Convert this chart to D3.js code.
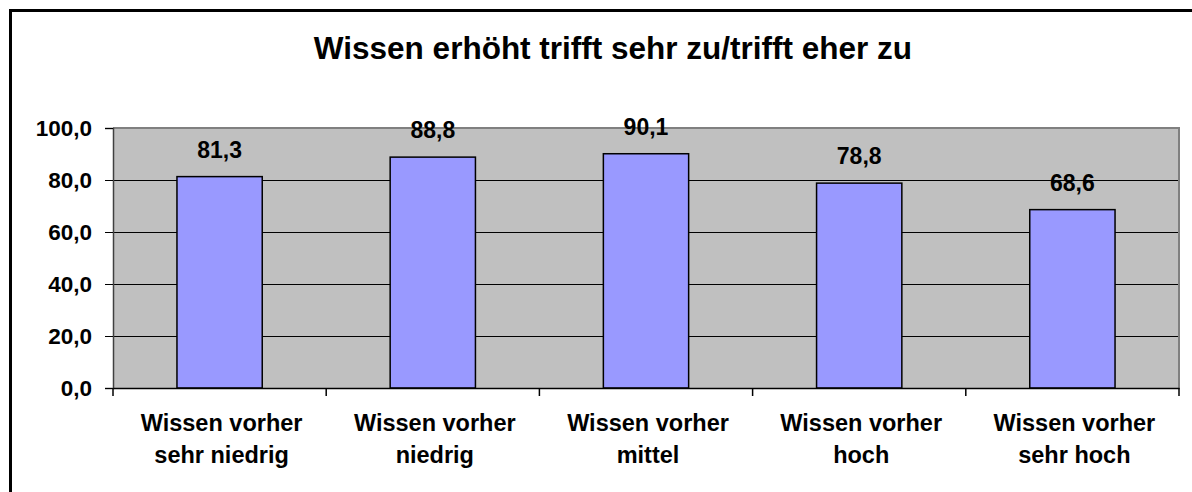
<!DOCTYPE html>
<html><head><meta charset="utf-8">
<script src="https://cdn.jsdelivr.net/npm/d3@7"></script>
<style>body{margin:0;background:#fff}svg{display:block}text{font-family:"Liberation Sans",Arial,sans-serif;font-weight:bold;fill:#000}</style>
</head><body><svg id="c" width="1192" height="492"></svg>
<script>
const title = "Wissen erhöht trifft sehr zu/trifft eher zu";
const categories = [["Wissen vorher","sehr niedrig"],["Wissen vorher","niedrig"],["Wissen vorher","mittel"],["Wissen vorher","hoch"],["Wissen vorher","sehr hoch"]];
const values = [81.3, 88.8, 90.1, 78.8, 68.6];
const yTicks = [0, 20, 40, 60, 80, 100];

const svg = d3.select("#c");
const m = {l:113, r:1179, t:128, b:388};
const fmt = v => d3.format(".1f")(v).replace(".", ",");

svg.append("rect").attr("x",10.5).attr("y",10.5).attr("width",1200).attr("height",500)
  .attr("fill","#fff").attr("stroke","#000").attr("stroke-width",3);

const x = d3.scaleBand().domain(d3.range(categories.length)).range([m.l, m.r]).paddingInner(0.6).paddingOuter(0.3);
const xb = d3.scaleBand().domain(d3.range(categories.length)).range([m.l, m.r]);
const y = d3.scaleLinear().domain([0,100]).range([m.b, m.t]);

svg.append("rect").attr("x",m.l).attr("y",m.t).attr("width",m.r-m.l).attr("height",m.b-m.t).attr("fill","#C0C0C0");

// gridlines
svg.append("g").selectAll("line").data(yTicks.filter(d=>d>0 && d<100)).join("line")
  .attr("x1",m.l).attr("x2",m.r).attr("y1",d=>Math.round(y(d))+0.5).attr("y2",d=>Math.round(y(d))+0.5)
  .attr("stroke","#000").attr("stroke-width",1);

// plot border top/right
svg.append("path").attr("d",`M${m.l},${m.t} H${m.r} V${m.b}`).attr("fill","none").attr("stroke","#808080").attr("stroke-width",2);

// bars
svg.append("g").selectAll("rect").data(values).join("rect")
  .attr("x",(d,i)=>x(i)).attr("width",x.bandwidth())
  .attr("y",d=>y(d)).attr("height",d=>y(0)-y(d))
  .attr("fill","#9999FF").attr("stroke","#000").attr("stroke-width",1.5);

// value labels
svg.append("g").selectAll("text").data(values).join("text")
  .attr("x",(d,i)=>x(i)+x.bandwidth()/2).attr("y",d=>y(d)-19)
  .attr("text-anchor","middle").style("font-size","23px").text(d=>fmt(d));

// y axis
const ya = d3.axisLeft(y).tickValues(yTicks).tickSize(8).tickPadding(13).tickFormat(fmt);
const gy = svg.append("g").attr("transform",`translate(${m.l},0)`).call(ya);
gy.attr("font-family",null);
gy.select(".domain").attr("stroke","#404040").attr("stroke-width",1.5);
gy.selectAll(".tick line").attr("stroke","#000");
gy.selectAll("text").style("font-size","22.5px").attr("fill","#000");

// x axis
const xa = d3.axisBottom(xb).tickSize(0).tickFormat("");
const gx = svg.append("g").attr("transform",`translate(0,${m.b})`).call(xa);
gx.select(".domain").attr("stroke","#000").attr("stroke-width",1.5);
svg.append("g").selectAll("line").data(d3.range(categories.length+1)).join("line")
  .attr("x1",i=>i<categories.length?xb(i):m.r).attr("x2",i=>i<categories.length?xb(i):m.r)
  .attr("y1",m.b).attr("y2",m.b+8).attr("stroke","#000").attr("stroke-width",1.5);

const cl = svg.append("g").selectAll("text").data(categories).join("text")
  .attr("x",(d,i)=>xb(i)+xb.bandwidth()/2+2).attr("y",431)
  .attr("text-anchor","middle").style("font-size","23.5px");
cl.selectAll("tspan").data(d=>d).join("tspan")
  .attr("x",function(){return this.parentNode.getAttribute("x");})
  .attr("dy",(d,i)=>i?32:0).text(d=>d);

svg.append("text").attr("x",613).attr("y",59).attr("text-anchor","middle")
  .style("font-size","31.5px").text(title);
</script></body></html>
